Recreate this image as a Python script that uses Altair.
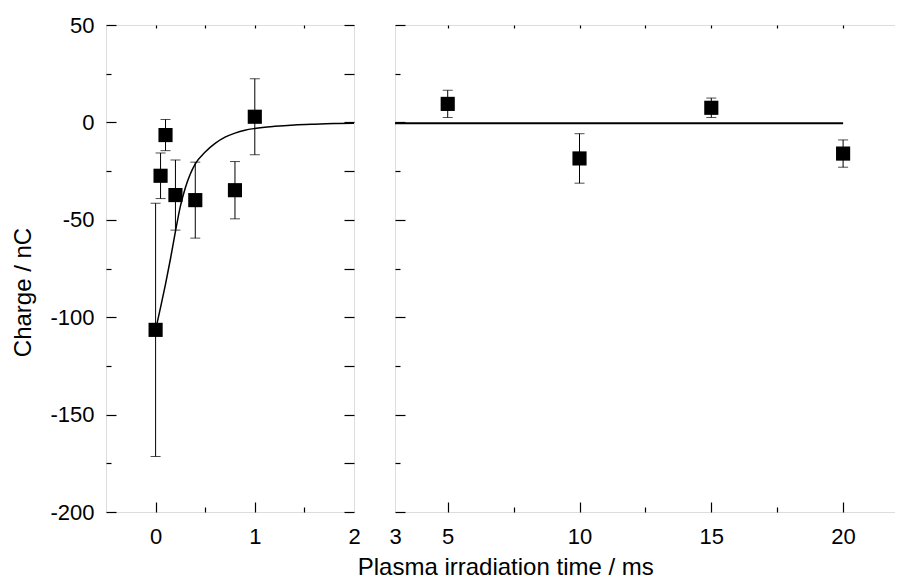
import altair as alt
import pandas as pd

# ---- data ----
left_time = [0.0, 0.05, 0.1, 0.2, 0.4, 0.8, 1.0]
left_charge = [-106.5, -27.4, -6.5, -37.3, -39.9, -34.8, 2.9]
left_error = [65.0, 11.7, 8.0, 18.0, 19.5, 14.7, 19.5]

right_time = [5, 10, 15, 20]
right_charge = [9.5, -18.5, 7.5, -16.0]
right_error = [7.0, 12.7, 5.0, 7.0]

fit_left_time = [0, 0.05, 0.1, 0.15, 0.2, 0.25, 0.3, 0.35, 0.4, 0.5, 0.6, 0.7, 0.8,
                 0.9, 1.0, 1.2, 1.4, 1.6, 1.8, 2.0]
fit_left_charge = [-106.5, -95, -83, -70, -56, -43, -33.5, -26.5, -21.3, -15.2, -10.8,
                   -7.6, -5.5, -4.0, -3.1, -2.0, -1.3, -0.9, -0.6, -0.5]
fit_right_time = [3, 20]
fit_right_charge = [-0.4, -0.4]

y_major = [-200, -150, -100, -50, 0, 50]
y_minor = [-175, -125, -75, -25, 25]

left_x_labels = [0, 1, 2]
left_x_major = [0, 1]
left_x_minor = [0.5, 1.5]

right_x_labels = [3, 5, 10, 15, 20]
right_x_major = [5, 10, 15, 20]
right_x_minor = [7.5, 12.5, 17.5]

FONT = "Liberation Sans"
PLAIN = "'' + datum.value"


def make_panel(times, charges, errors, fit_t, fit_c, xdom, width, xlabels, xmajor, xminor,
               show_ylabels, line_width):
    pts = pd.DataFrame({"t": times, "c": charges, "e": errors})
    pts["lo"] = pts["c"] - pts["e"]
    pts["hi"] = pts["c"] + pts["e"]
    fit = pd.DataFrame({"t": fit_t, "c": fit_c})

    xs = alt.Scale(domain=xdom, nice=False, zero=False)
    ys = alt.Scale(domain=[-200, 50], nice=False, zero=False)

    def xax(**kw):
        base = dict(grid=False, domain=False, labels=False, title=None, tickColor="black",
                    tickWidth=1.2)
        base.update(kw)
        return alt.Axis(**base)

    squares = alt.Chart(pts).mark_point(shape="square", filled=True, color="black",
                                        size=200, opacity=1).encode(
        x=alt.X("t:Q", scale=xs, axis=xax(orient="bottom", values=xlabels, ticks=False,
                                          labels=True, labelFontSize=22, labelFont=FONT,
                                          labelColor="black", labelPadding=14,
                                          labelFlush=False, labelOverlap=False,
                                          labelExpr=PLAIN)),
        y=alt.Y("c:Q", scale=ys, axis=xax(orient="left", values=y_major, ticks=False,
                                          labels=show_ylabels, labelFontSize=22,
                                          labelFont=FONT, labelColor="black",
                                          labelPadding=12, labelOverlap=False,
                                          labelExpr=PLAIN,
                                          title="Charge / nC" if show_ylabels else None,
                                          titleFont=FONT, titleFontSize=24,
                                          titleFontWeight="normal", titleColor="black",
                                          titlePadding=14, titleY=267)),
    )

    bars = alt.Chart(pts).mark_rule(color="black", strokeWidth=1).encode(
        x=alt.X("t:Q", scale=xs, axis=xax(orient="bottom", values=xmajor, tickSize=10,
                                          offset=-10)),
        y=alt.Y("lo:Q", scale=ys, axis=xax(orient="left", values=y_major, tickSize=10,
                                           offset=-10)),
        y2="hi:Q",
    )

    caps_hi = alt.Chart(pts).mark_tick(orient="horizontal", color="black", size=10,
                                       thickness=1).encode(
        x=alt.X("t:Q", scale=xs, axis=xax(orient="bottom", values=xminor, tickSize=5,
                                          offset=-5)),
        y=alt.Y("hi:Q", scale=ys, axis=xax(orient="left", values=y_minor, tickSize=5,
                                           offset=-5)),
    )

    caps_lo = alt.Chart(pts).mark_tick(orient="horizontal", color="black", size=10,
                                       thickness=1).encode(
        x=alt.X("t:Q", scale=xs, axis=xax(orient="top", values=xmajor + xminor, tickSize=3,
                                          offset=-3)),
        y=alt.Y("lo:Q", scale=ys, axis=xax(orient="right", values=y_major + y_minor,
                                           tickSize=10, offset=-10)),
    )

    line = alt.Chart(fit).mark_line(color="black", strokeWidth=line_width,
                                    interpolate="monotone").encode(
        x=alt.X("t:Q", scale=xs, axis=None),
        y=alt.Y("c:Q", scale=ys, axis=None),
    )

    return alt.layer(line, bars, caps_hi, caps_lo, squares).resolve_axis(
        x="independent", y="independent"
    ).properties(width=width, height=487)


left = make_panel(left_time, left_charge, left_error, fit_left_time, fit_left_charge,
                  [-0.5, 2], 248, left_x_labels, left_x_major, left_x_minor, True, 1.5)
right = make_panel(right_time, right_charge, right_error, fit_right_time, fit_right_charge,
                   [3, 22.5], 514, right_x_labels, right_x_major, right_x_minor, False, 2)

chart = alt.hconcat(left, right, spacing=41, bounds="flush").properties(
    padding={"left": 3, "top": 5, "right": -16, "bottom": 0},
    title=alt.TitleParams("Plasma irradiation time / ms", orient="bottom", anchor="middle",
                          fontSize=24, font=FONT, fontWeight="normal", color="black",
                          offset=8, dx=45),
).configure_view(stroke="black", strokeWidth=1.5).configure(background="white")

chart.save("out.html", embed_options={"renderer": "svg", "actions": False})
